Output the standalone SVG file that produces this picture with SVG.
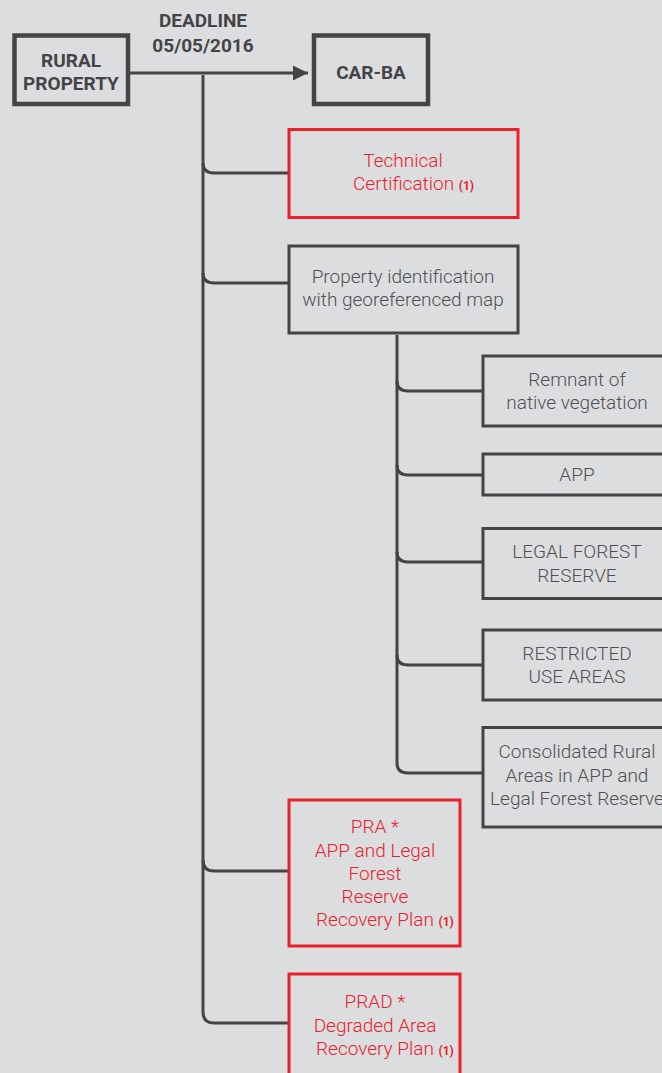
<svg xmlns="http://www.w3.org/2000/svg" width="662" height="1073" viewBox="0 0 662 1073">
<style>
.bg{fill:#dcdddf}
.main{fill:none;stroke:#444446;stroke-width:4.5}
.gbox{fill:none;stroke:#444446;stroke-width:3}
.rbox{fill:none;stroke:#e8212b;stroke-width:3}
.line{fill:none;stroke:#444446;stroke-width:3}
.bold{font-family:Roboto,"Liberation Sans",sans-serif;font-weight:700;font-size:19px;fill:#444446;text-anchor:middle}
.gt{font-family:Roboto,"Liberation Sans",sans-serif;font-weight:300;font-size:19px;fill:#505052;text-anchor:middle}
.rt{font-family:Roboto,"Liberation Sans",sans-serif;font-weight:300;font-size:19px;fill:#e8212b;text-anchor:middle}
.st{text-anchor:start}
.sup{font-weight:700;font-size:12px}
</style>
<defs>
<marker id="arr" markerWidth="16" markerHeight="16" refX="15" refY="8" orient="auto" markerUnits="userSpaceOnUse">
<path d="M0,0.5 L15,8 L0,15.5 Z" fill="#444446"/>
</marker>
</defs>
<rect class="bg" x="0" y="0" width="662" height="1073"/>
<g id="connectors">
<line class="line" x1="130" y1="73" x2="308" y2="73" marker-end="url(#arr)"/>
<path class="line" d="M203,75 V1012 Q203,1023 214,1023 H288"/>
<path class="line" d="M203,163 Q203,173 214,173 H288"/>
<path class="line" d="M203,273 Q203,283 214,283 H288"/>
<path class="line" d="M203,860 Q203,871 214,871 H288"/>
<path class="line" d="M397,335 V763 Q397,773 408,773 H483"/>
<path class="line" d="M397,381 Q397,391 408,391 H483"/>
<path class="line" d="M397,465 Q397,475 408,475 H483"/>
<path class="line" d="M397,552 Q397,562 408,562 H483"/>
<path class="line" d="M397,655 Q397,665 408,665 H483"/>
</g>
<g id="deadline">
<text class="bold" x="203" y="27">DEADLINE</text>
<text class="bold" x="203" y="52">05/05/2016</text>
</g>
<g id="rural">
<rect class="main" x="14.5" y="35.5" width="113.5" height="68.5"/>
<text class="bold" x="71" y="67">RURAL</text>
<text class="bold" x="71" y="90">PROPERTY</text>
</g>
<g id="carba">
<rect class="main" x="314" y="35.5" width="114" height="68.5"/>
<text class="bold" x="371" y="79">CAR-BA</text>
</g>
<g id="tech">
<rect class="rbox" x="289" y="129.5" width="229" height="88"/>
<text class="rt" x="403" y="167">Technical</text>
<text class="rt st" x="353" y="190">Certification <tspan class="sup">(1)</tspan></text>
</g>
<g id="propid">
<rect class="gbox" x="289" y="246" width="229" height="87"/>
<text class="gt" x="403" y="283">Property identification</text>
<text class="gt" x="403" y="306">with georeferenced map</text>
</g>
<g id="remnant">
<rect class="gbox" x="483" y="356" width="190" height="70"/>
<text class="gt" x="577" y="386">Remnant of</text>
<text class="gt" x="577" y="409">native vegetation</text>
</g>
<g id="app">
<rect class="gbox" x="483" y="454" width="190" height="41"/>
<text class="gt" x="577" y="481">APP</text>
</g>
<g id="legal">
<rect class="gbox" x="483" y="528.5" width="190" height="70"/>
<text class="gt" x="577" y="558">LEGAL FOREST</text>
<text class="gt" x="577" y="582">RESERVE</text>
</g>
<g id="restricted">
<rect class="gbox" x="483" y="630" width="190" height="70"/>
<text class="gt" x="577" y="660">RESTRICTED</text>
<text class="gt" x="577" y="683">USE AREAS</text>
</g>
<g id="consolidated">
<rect class="gbox" x="483" y="727.5" width="190" height="99.5"/>
<text class="gt" x="577" y="758">Consolidated Rural</text>
<text class="gt" x="577" y="782">Areas in APP and</text>
<text class="gt" x="577" y="805">Legal Forest Reserve</text>
</g>
<g id="pra">
<rect class="rbox" x="289" y="800" width="171" height="146"/>
<text class="rt" x="375" y="833">PRA *</text>
<text class="rt" x="375" y="857">APP and Legal</text>
<text class="rt" x="375" y="880">Forest</text>
<text class="rt" x="375" y="903">Reserve</text>
<text class="rt st" x="316" y="926">Recovery Plan <tspan class="sup">(1)</tspan></text>
</g>
<g id="prad">
<rect class="rbox" x="289" y="974" width="171" height="110"/>
<text class="rt" x="375" y="1008">PRAD *</text>
<text class="rt" x="375" y="1032">Degraded Area</text>
<text class="rt st" x="316" y="1055">Recovery Plan <tspan class="sup">(1)</tspan></text>
</g>
</svg>
